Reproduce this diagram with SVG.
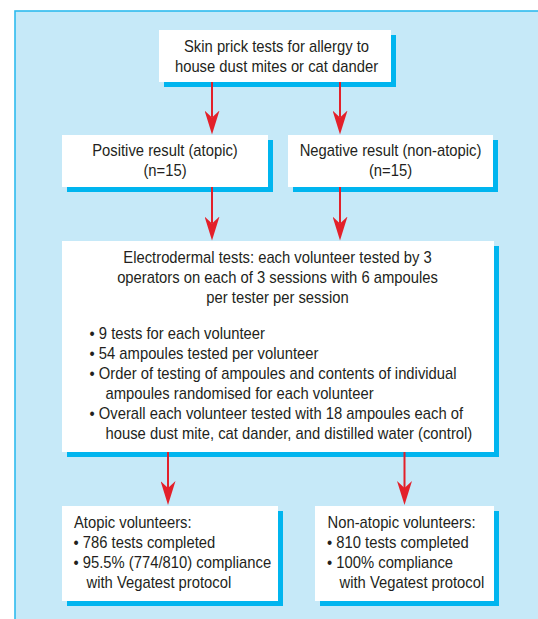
<svg xmlns="http://www.w3.org/2000/svg" width="538" height="619" viewBox="0 0 538 619">
  <defs>
    <style>
      .panel { fill: #c6e9f8; stroke: #2fbbee; stroke-width: 1.6; }
      .box { fill: #ffffff; }
      .shadow { fill: #00b5ef; }
      .t { font-family: "Liberation Sans", Arial, sans-serif; font-size: 16px; fill: #231f20; }
      .c { text-anchor: middle; }
      .conn { stroke: #e3202a; stroke-width: 2; fill: none; marker-end: url(#arr); }
    </style>
    <marker id="arr" viewBox="0 0 24 15" refX="7" refY="7.5" markerWidth="24" markerHeight="15" markerUnits="userSpaceOnUse" orient="auto">
      <path d="M0,0 L24,7.5 L0,15 L7,7.5 Z" fill="#e3202a"/>
    </marker>
  </defs>

  <rect class="panel" x="15" y="11" width="540" height="620"/>

  <g id="node-skin-prick">
    <rect class="shadow" x="164" y="35" width="232" height="52"/>
    <rect class="box" x="159" y="30" width="232" height="52"/>
    <text class="t c" transform="translate(276.5 51.7) scale(0.925 1)">Skin prick tests for allergy to</text>
    <text class="t c" transform="translate(276.5 71.7) scale(0.925 1)">house dust mites or cat dander</text>
  </g>

  <g id="node-positive">
    <rect class="shadow" x="67" y="140" width="206" height="52"/>
    <rect class="box" x="62" y="135" width="206" height="52"/>
    <text class="t c" transform="translate(165 156) scale(0.925 1)">Positive result (atopic)</text>
    <text class="t c" transform="translate(165 175.5) scale(0.925 1)">(n=15)</text>
  </g>

  <g id="node-negative">
    <rect class="shadow" x="293" y="140" width="205" height="52"/>
    <rect class="box" x="288" y="135" width="205" height="52"/>
    <text class="t c" transform="translate(390.5 156) scale(0.925 1)">Negative result (non-atopic)</text>
    <text class="t c" transform="translate(390.5 175.5) scale(0.925 1)">(n=15)</text>
  </g>

  <g id="node-electrodermal">
    <rect class="shadow" x="67" y="246" width="432" height="211"/>
    <rect class="box" x="62" y="241" width="432" height="211"/>
    <text class="t c" transform="translate(277.5 263.3) scale(0.925 1)">Electrodermal tests: each volunteer tested by 3</text>
    <text class="t c" transform="translate(277.5 283) scale(0.925 1)">operators on each of 3 sessions with 6 ampoules</text>
    <text class="t c" transform="translate(277.5 302.7) scale(0.925 1)">per tester per session</text>
    <text class="t" transform="translate(89.5 339) scale(0.925 1)">• 9 tests for each volunteer</text>
    <text class="t" transform="translate(89.5 359) scale(0.925 1)">• 54 ampoules tested per volunteer</text>
    <text class="t" transform="translate(89.5 379.3) scale(0.925 1)">• Order of testing of ampoules and contents of individual</text>
    <text class="t" transform="translate(105.5 399.2) scale(0.925 1)">ampoules randomised for each volunteer</text>
    <text class="t" transform="translate(89.5 419.3) scale(0.925 1)">• Overall each volunteer tested with 18 ampoules each of</text>
    <text class="t" transform="translate(105.5 439.3) scale(0.925 1)">house dust mite, cat dander, and distilled water (control)</text>
  </g>

  <g id="node-atopic">
    <rect class="shadow" x="67" y="511" width="216" height="95"/>
    <rect class="box" x="62" y="506" width="216" height="95"/>
    <text class="t" transform="translate(74 528.3) scale(0.925 1)">Atopic volunteers:</text>
    <text class="t" transform="translate(73.5 547.8) scale(0.925 1)">• 786 tests completed</text>
    <text class="t" transform="translate(73.5 568.3) scale(0.925 1)">• 95.5% (774/810) compliance</text>
    <text class="t" transform="translate(86.5 588.3) scale(0.925 1)">with Vegatest protocol</text>
  </g>

  <g id="node-nonatopic">
    <rect class="shadow" x="320" y="511" width="179" height="95"/>
    <rect class="box" x="315" y="506" width="179" height="95"/>
    <text class="t" transform="translate(327.5 528.3) scale(0.925 1)">Non-atopic volunteers:</text>
    <text class="t" transform="translate(327 547.8) scale(0.925 1)">• 810 tests completed</text>
    <text class="t" transform="translate(327 568.3) scale(0.925 1)">• 100% compliance</text>
    <text class="t" transform="translate(339.5 588.3) scale(0.925 1)">with Vegatest protocol</text>
  </g>

  <g id="connectors">
    <line class="conn" x1="212" y1="82" x2="212" y2="117.5"/>
    <line class="conn" x1="340" y1="82" x2="340" y2="117.5"/>
    <line class="conn" x1="212" y1="187" x2="212" y2="223.5"/>
    <line class="conn" x1="340" y1="187" x2="340" y2="223.5"/>
    <line class="conn" x1="168" y1="452" x2="168" y2="488"/>
    <line class="conn" x1="404.5" y1="452" x2="404.5" y2="488"/>
  </g>
</svg>
